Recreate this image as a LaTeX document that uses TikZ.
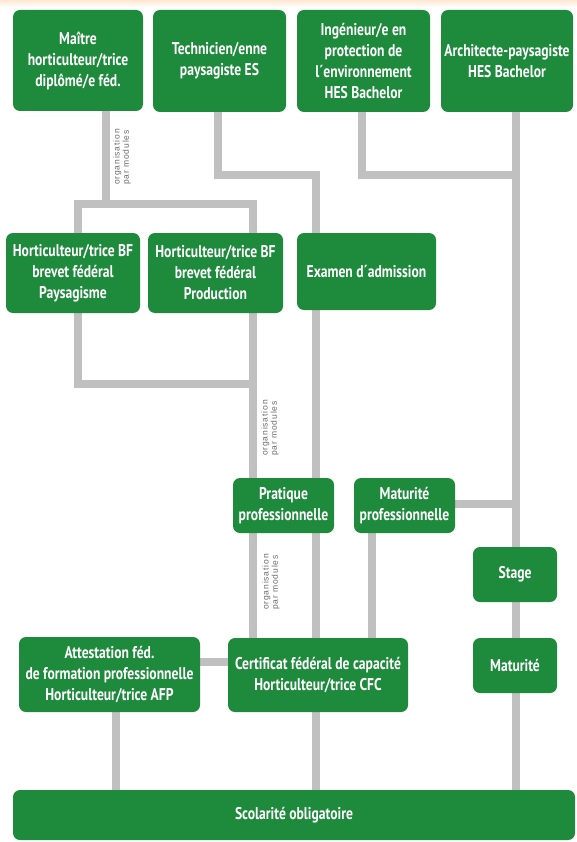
\documentclass[tikz,border=0pt]{standalone}
\usepackage{fontspec}
\setmainfont{PT Sans}[FakeStretch=0.8]
\newfontfamily\labfont{Liberation Sans}[LetterSpace=10]
\definecolor{boxgreen}{RGB}{30,138,60}
\definecolor{linegray}{RGB}{192,192,192}
\definecolor{labgray}{RGB}{105,105,105}
\pgfdeclarelayer{background}
\pgfsetlayers{background,main}
\begin{document}
\begin{tikzpicture}[x=1pt,y=-1pt,
  box/.style={draw=none,fill=boxgreen,rounded corners=7pt,text=white,
    font=\bfseries\fontsize{17}{21}\selectfont,align=center,inner sep=0pt},
  conn/.style={draw=linegray,line width=8pt,line join=miter},
  modlab/.style={text=labgray,font=\labfont\fontsize{8.5}{9.3}\selectfont,
    align=left,rotate=90,inner sep=0pt}]
\useasboundingbox (0,0) rectangle (577,842);
\shade[top color=orange!18,bottom color=white] (0,0) rectangle (577,7);
% junction coordinates
\coordinate (a1) at (106,204);
\coordinate (cL) at (78,204);
\coordinate (cR) at (253,204);
\coordinate (dL) at (78,384);
\coordinate (dR) at (253,384);
\coordinate (t1) at (218,175);
\coordinate (t2) at (316,175);
\coordinate (i1) at (362,175);
\coordinate (i2) at (516,175);
\coordinate (mv) at (372,600);
\coordinate (av) at (116,750);
\coordinate (ah) at (214,662);
\coordinate (mh) at (470,504);
% node positions
\path
 (78,60.5)    coordinate (pm1)
 (219.5,61)   coordinate (pm2)
 (363.5,61)   coordinate (pm3)
 (507,61)     coordinate (pm4)
 (73,273)     coordinate (pb1)
 (215.5,273)  coordinate (pb2)
 (366.5,271.5) coordinate (pex)
 (283.5,505.5) coordinate (ppr)
 (404.5,505.5) coordinate (pmp)
 (515,574.5)  coordinate (pst)
 (515,665.5)  coordinate (pma)
 (318,675)    coordinate (pcf)
 (109.5,674.5) coordinate (pat)
 (294,815)    coordinate (psc);
\node[box,minimum width=130pt,minimum height=101pt] (m1) at (pm1) {Maître\\horticulteur/trice\\diplômé/e féd.};
\node[box,minimum width=133pt,minimum height=102pt] (m2) at (pm2) {Technicien/enne\\paysagiste ES};
\node[box,minimum width=133pt,minimum height=102pt] (m3) at (pm3) {Ingénieur/e en\\protection de\\l´environnement\\HES Bachelor};
\node[box,minimum width=132pt,minimum height=102pt] (m4) at (pm4) {Architecte-paysagiste\\HES Bachelor};
\node[box,minimum width=134pt,minimum height=80pt] (b1) at (pb1) {Horticulteur/trice BF\\brevet fédéral\\Paysagisme};
\node[box,minimum width=135pt,minimum height=80pt] (b2) at (pb2) {Horticulteur/trice BF\\brevet fédéral\\Production};
\node[box,minimum width=139pt,minimum height=77pt] (ex) at (pex) {Examen d´admission};
\node[box,minimum width=101pt,minimum height=55pt] (pr) at (ppr) {Pratique\\professionnelle};
\node[box,minimum width=101pt,minimum height=55pt] (mp) at (pmp) {Maturité\\professionnelle};
\node[box,minimum width=84pt,minimum height=55pt] (st) at (pst) {Stage};
\node[box,minimum width=84pt,minimum height=55pt] (ma) at (pma) {Maturité};
\node[box,minimum width=180pt,minimum height=74pt] (cf) at (pcf) {Certificat fédéral de capacité\\Horticulteur/trice CFC};
\node[box,minimum width=181pt,minimum height=75pt] (at) at (pat) {Attestation féd.\\de formation professionnelle\\Horticulteur/trice AFP};
\node[box,minimum width=562pt,minimum height=50pt] (sc) at (psc) {Scolarité obligatoire};
% labels
\node[modlab] (lab1) at (122,157) {organisation\\par modules};
\node[modlab] (lab2) at (270,428) {organisation\\par modules};
\node[modlab] (lab3) at (271,582) {organisation\\par modules};
% connectors behind boxes
\begin{pgfonlayer}{background}
\draw[conn] (m1.south -| a1) -- (a1);
\draw[conn] (dR) -- (dL) -- (cL) -- (cR) -- (pr.north -| cR);
\draw[conn] (pr.south -| cR) -- (cf.north -| cR);
\draw[conn] (m2.south -| t1) -- (t1) -- (t2) -- (sc.north -| t2);
\draw[conn] (m3.south -| i1) -- (i1) -- (i2);
\draw[conn] (m4.south -| i2) -- (sc.north -| i2);
\draw[conn] (mp.east |- mh) -- (mh -| i2);
\draw[conn] (mp.south -| mv) -- (cf.north -| mv);
\draw[conn] (at.east |- ah) -- (cf.west |- ah);
\draw[conn] (at.south -| av) -- (sc.north -| av);
\end{pgfonlayer}
\end{tikzpicture}
\end{document}
